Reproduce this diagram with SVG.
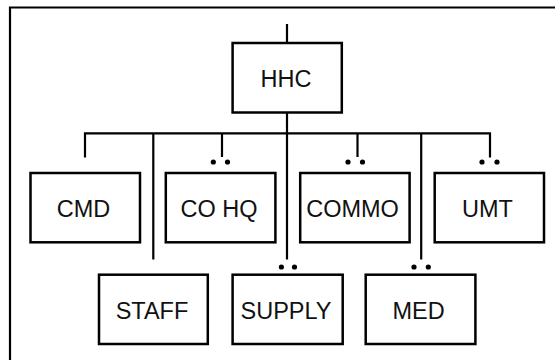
<svg xmlns="http://www.w3.org/2000/svg" width="555" height="360" viewBox="0 0 555 360">
<defs>
<style>
.box{fill:#fff;stroke:#000;stroke-width:2.5}
.lbl{font-family:"Liberation Sans",Arial,Helvetica,sans-serif;font-size:23.5px;fill:#111;text-anchor:middle}
.ln{fill:none;stroke:#000;stroke-width:2.2}
.dot{fill:#000}
</style>
</defs>
<rect width="555" height="360" fill="#fff"/>
<g id="frame"><path class="ln" d="M10,360 V7.5 H555" stroke-width="2.6"/></g>
<g id="connectors">
<path class="ln" d="M287,24 V43"/>
<path class="ln" d="M287,112.5 V259.5"/>
<path class="ln" d="M85,157.5 V133.3 H490 V157.5"/>
<path class="ln" d="M153.3,133.3 V259.5"/>
<path class="ln" d="M222,133.3 V157"/>
<path class="ln" d="M357.5,133.3 V157"/>
<path class="ln" d="M421.2,133.3 V259.5"/>
<circle class="dot" cx="213.3" cy="162" r="2.6"/><circle class="dot" cx="227.5" cy="162" r="2.6"/>
<circle class="dot" cx="348" cy="162" r="2.6"/><circle class="dot" cx="362.5" cy="162" r="2.6"/>
<circle class="dot" cx="482" cy="162" r="2.6"/><circle class="dot" cx="497" cy="162" r="2.6"/>
<circle class="dot" cx="281.4" cy="267" r="2.6"/><circle class="dot" cx="294.5" cy="267" r="2.6"/>
<circle class="dot" cx="414" cy="267" r="2.6"/><circle class="dot" cx="428.3" cy="267" r="2.6"/>
</g>
<g id="HHC"><rect class="box" x="232.6" y="43" width="109.2" height="69.5"/><text class="lbl" x="286" y="86.5">HHC</text></g>
<g id="CMD"><rect class="box" x="30.5" y="173" width="109.5" height="69.3"/><text class="lbl" x="83.5" y="216.5">CMD</text></g>
<g id="COHQ"><rect class="box" x="165.8" y="173" width="109.6" height="69.3"/><text class="lbl" x="219" y="216.5">CO HQ</text></g>
<g id="COMMO"><rect class="box" x="300.2" y="173" width="109.4" height="69.3"/><text class="lbl" x="352.5" y="216.5">COMMO</text></g>
<g id="UMT"><rect class="box" x="434.7" y="173" width="109.3" height="69.3"/><text class="lbl" x="487.5" y="216.5">UMT</text></g>
<g id="STAFF"><rect class="box" x="99" y="274.7" width="108.8" height="69.3"/><text class="lbl" x="152" y="319">STAFF</text></g>
<g id="SUPPLY"><rect class="box" x="232.6" y="274.7" width="110.1" height="69.3"/><text class="lbl" x="286" y="319">SUPPLY</text></g>
<g id="MED"><rect class="box" x="365.7" y="274.7" width="109.7" height="69.3"/><text class="lbl" x="418.5" y="319">MED</text></g>
</svg>
